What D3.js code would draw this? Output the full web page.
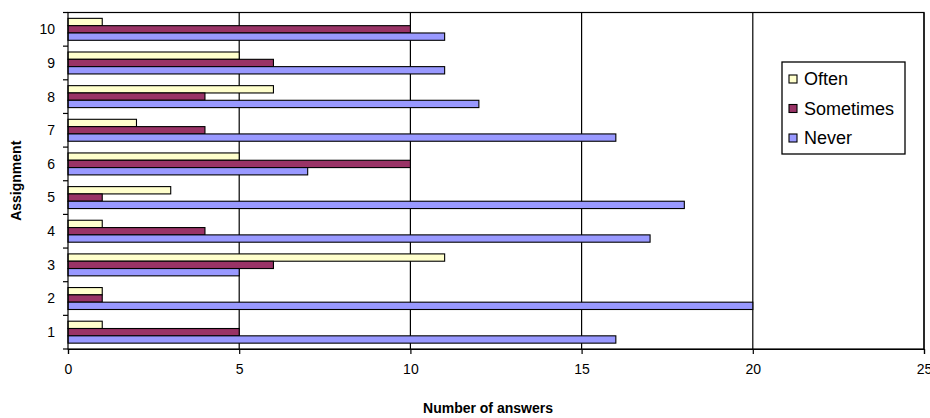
<!DOCTYPE html>
<html>
<head>
<meta charset="utf-8">
<script src="https://cdn.jsdelivr.net/npm/d3@7"></script>
<style>
  body { margin: 0; background: #fff; }
  svg { display: block; font-family: Arial, "Liberation Sans", sans-serif; }
</style>
</head>
<body>
<div id="chart"></div>
<script>
// assignments 1..10 and answer counts per series
const assignments = ['1', '2', '3', '4', '5', '6', '7', '8', '9', '10'];
const seriesNames = ['Often', 'Sometimes', 'Never'];
const often     = [1, 1, 11, 1, 3, 5, 2, 6, 5, 1];
const sometimes = [5, 1, 6, 4, 1, 10, 4, 4, 6, 10];
const never     = [16, 20, 5, 17, 18, 7, 16, 12, 11, 11];
const xTicks = [0, 5, 10, 15, 20, 25];

const colors = { 'Often': '#FFFFCC', 'Sometimes': '#993366', 'Never': '#9999FF' };

let width = 930, height = 418;
let plot = { left: 68, right: 924, top: 12.5, bottom: 349 };

let svg = d3.select('#chart').append('svg')
    .attr('width', width)
    .attr('height', height);

let x = d3.scaleLinear().domain([0, 25]).range([plot.left, plot.right]);

// top of chart is assignment 10
let y = d3.scaleBand()
    .domain(assignments.slice().reverse())
    .range([plot.top, plot.bottom])
    .padding(0);

let inner = d3.scaleBand()
    .domain(seriesNames)
    .range([0, y.bandwidth()])
    .paddingInner(0)
    .paddingOuter(0.8);

let data = assignments.map((a, i) => ({
    assignment: a,
    values: { 'Often': often[i], 'Sometimes': sometimes[i], 'Never': never[i] }
}));

// vertical gridlines
svg.append('g').selectAll('line')
    .data(xTicks.slice(1))
    .join('line')
    .attr('x1', d => x(d)).attr('x2', d => x(d))
    .attr('y1', plot.top).attr('y2', plot.bottom)
    .attr('stroke', '#000')
    .attr('stroke-width', 1.2);

// bars
let groups = svg.append('g').selectAll('g')
    .data(data)
    .join('g')
    .attr('transform', d => `translate(0,${y(d.assignment)})`);

groups.selectAll('rect')
    .data(d => seriesNames.map(s => ({ s: s, v: d.values[s] })))
    .join('rect')
    .attr('x', x(0))
    .attr('y', d => inner(d.s))
    .attr('width', d => x(d.v) - x(0))
    .attr('height', inner.bandwidth())
    .attr('fill', d => colors[d.s])
    .attr('stroke', '#000')
    .attr('stroke-width', 1.1);

// plot frame
svg.append('rect')
    .attr('x', plot.left).attr('y', plot.top)
    .attr('width', plot.right - plot.left)
    .attr('height', plot.bottom - plot.top)
    .attr('fill', 'none')
    .attr('stroke', '#000')
    .attr('stroke-width', 1.2);

// x axis
let xAxis = svg.append('g')
    .attr('transform', `translate(0,${plot.bottom})`)
    .call(d3.axisBottom(x).tickValues(xTicks).tickSize(5).tickPadding(10));
xAxis.select('.domain').attr('stroke-width', 1.2);
xAxis.selectAll('.tick line').attr('stroke-width', 1.2);
xAxis.selectAll('text').attr('font-size', 14).attr('font-family', 'Arial, "Liberation Sans", sans-serif');

// y axis: ticks between categories
let yAxis = svg.append('g')
    .attr('transform', `translate(${plot.left},0)`);
yAxis.selectAll('line')
    .data(assignments.concat(['end']))
    .join('line')
    .attr('x1', -5).attr('x2', 0)
    .attr('y1', d => d === 'end' ? plot.bottom : y(d))
    .attr('y2', d => d === 'end' ? plot.bottom : y(d))
    .attr('stroke', '#000')
    .attr('stroke-width', 1.2);
yAxis.selectAll('text')
    .data(assignments)
    .join('text')
    .attr('x', -13)
    .attr('y', d => y(d) + y.bandwidth() / 2)
    .attr('dy', '0.35em')
    .attr('text-anchor', 'end')
    .attr('font-size', 14)
    .text(d => d);

// axis titles
svg.append('text')
    .attr('x', (plot.left + plot.right) / 2 - 8)
    .attr('y', 413)
    .attr('text-anchor', 'middle')
    .attr('font-size', 14)
    .attr('font-weight', 'bold')
    .text('Number of answers');

svg.append('text')
    .attr('transform', `translate(21,${(plot.top + plot.bottom) / 2}) rotate(-90)`)
    .attr('text-anchor', 'middle')
    .attr('font-size', 14)
    .attr('font-weight', 'bold')
    .text('Assignment');

// legend
let legend = svg.append('g').attr('transform', 'translate(782,62)');
legend.append('rect')
    .attr('width', 123).attr('height', 92)
    .attr('fill', '#fff')
    .attr('stroke', '#000')
    .attr('stroke-width', 1.3);

let items = legend.selectAll('g.item')
    .data(seriesNames)
    .join('g')
    .attr('class', 'item')
    .attr('transform', (d, i) => `translate(0,${17 + i * 29.5})`);
items.append('rect')
    .attr('x', 7).attr('y', -4)
    .attr('width', 8).attr('height', 8)
    .attr('fill', d => colors[d])
    .attr('stroke', '#000')
    .attr('stroke-width', 1.1);
items.append('text')
    .attr('x', 22)
    .attr('dy', '0.36em')
    .attr('font-size', 18)
    .text(d => d);
</script>
</body>
</html>
